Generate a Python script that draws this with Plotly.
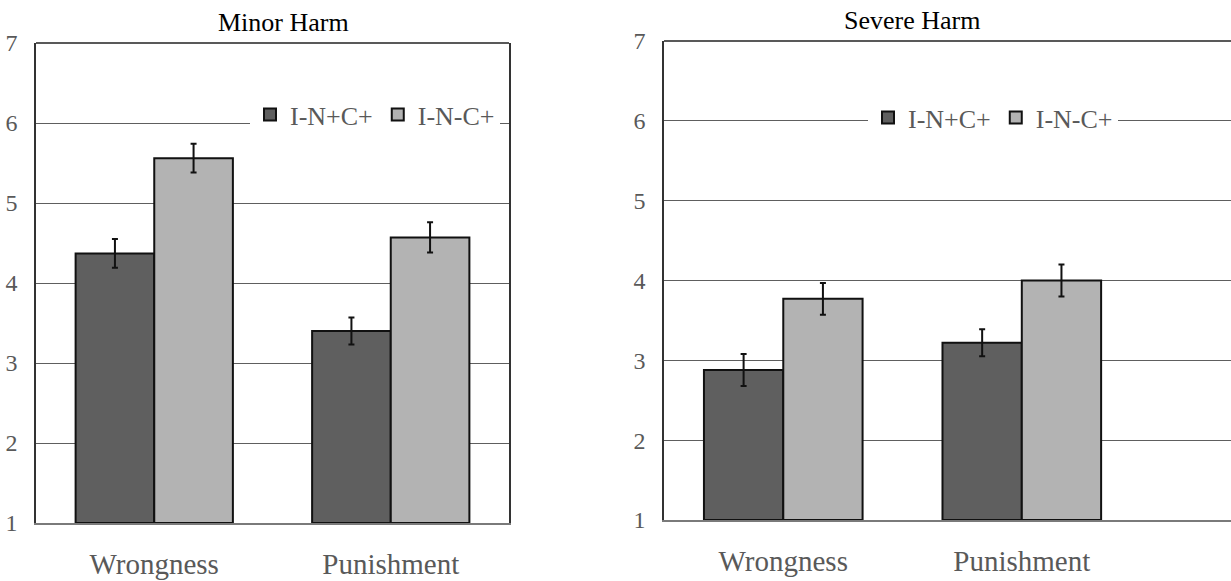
import plotly.graph_objects as go

categories = ["Wrongness", "Punishment"]
series_names = ["I-N+C+", "I-N-C+"]

minor_dark = [4.37, 3.40]
minor_dark_err = [0.18, 0.17]
minor_light = [5.56, 4.57]
minor_light_err = [0.18, 0.19]

severe_dark = [2.88, 3.22]
severe_dark_err = [0.20, 0.17]
severe_light = [3.77, 4.00]
severe_light_err = [0.20, 0.20]

y_ticks = [1, 2, 3, 4, 5, 6, 7]
panel_titles = ["Minor Harm", "Severe Harm"]

W, H = 1231, 581
FONT = "Liberation Serif, Times New Roman, serif"
DARK = "#5f5f5f"
LIGHT = "#b3b3b3"
GRID = "#5e5e5e"
TXT = "#595959"

xpos = list(range(len(categories)))

def bar(x, y, err, name, color, xa, ya, legend, show=True):
    return go.Bar(
        x=x, y=[v - 1 for v in y], base=1, name=name,
        marker=dict(color=color, line=dict(color="#111111", width=2)),
        error_y=dict(type="data", array=err, color="#111111", thickness=2, width=3),
        xaxis=xa, yaxis=ya, legend=legend, showlegend=show,
    )

fig = go.Figure()
fig.add_trace(bar(xpos, minor_dark, minor_dark_err, series_names[0], DARK, "x", "y", "legend"))
fig.add_trace(bar(xpos, minor_light, minor_light_err, series_names[1], LIGHT, "x", "y", "legend"))
fig.add_trace(bar(xpos, severe_dark, severe_dark_err, series_names[0], DARK, "x2", "y2", "legend2"))
fig.add_trace(bar(xpos, severe_light, severe_light_err, series_names[1], LIGHT, "x2", "y2", "legend2"))

def px_x(p):
    return p / W

def px_y(p):
    return (H - p) / H

yax = dict(
    range=[1, 7], tickvals=y_ticks, showgrid=True, gridcolor=GRID, gridwidth=1.3,
    zeroline=False, showline=True, linecolor="#333333", linewidth=1.5,
    tickfont=dict(family=FONT, size=24, color=TXT), ticks="", ticklabelstandoff=12,
    fixedrange=True, automargin=False,
)
xax = dict(
    tickvals=xpos, ticktext=categories, showgrid=False, zeroline=False,
    showline=True, linecolor="#7a7a7a", linewidth=2, ticks="",
    tickfont=dict(family=FONT, size=29, color=TXT), ticklabelstandoff=14,
    fixedrange=True, automargin=False,
)

legend_style = dict(
    orientation="h", bgcolor="white", borderwidth=0,
    font=dict(family=FONT, size=26, color=TXT), itemclick=False, itemdoubleclick=False,
    traceorder="normal", xanchor="left", yanchor="top", tracegroupgap=0,
)

fig.update_layout(
    template="none",
    width=W, height=H, margin=dict(l=0, r=0, t=0, b=0, autoexpand=False),
    paper_bgcolor="white", plot_bgcolor="white",
    barmode="group", bargap=0.335, bargroupgap=0,
    xaxis=dict(xax, domain=[px_x(36), px_x(509)], range=[-0.5, 1.5], anchor="y"),
    yaxis=dict(yax, domain=[px_y(523), px_y(43)], mirror=True, anchor="x"),
    xaxis2=dict(xax, domain=[px_x(664), 1.0], range=[-0.5, 1.877], anchor="y2"),
    yaxis2=dict(yax, domain=[px_y(520), px_y(41)], anchor="x2"),
    legend=dict(legend_style, x=px_x(250), y=px_y(91)),
    legend2=dict(legend_style, x=px_x(868), y=px_y(94)),
    showlegend=True,
    shapes=[
        dict(type="line", xref="x domain", yref="y domain", x0=0, x1=1, y0=1, y1=1,
             line=dict(color="#222222", width=1.5)),
        dict(type="line", xref="x2 domain", yref="y2 domain", x0=0, x1=1, y0=1, y1=1,
             line=dict(color="#222222", width=1.5)),
    ],
    annotations=[
        dict(text=panel_titles[0], x=px_x(283), y=px_y(23), xref="paper", yref="paper",
             showarrow=False, xanchor="center", yanchor="middle",
             font=dict(family=FONT, size=26, color="black")),
        dict(text=panel_titles[1], x=px_x(912), y=px_y(20), xref="paper", yref="paper",
             showarrow=False, xanchor="center", yanchor="middle",
             font=dict(family=FONT, size=26, color="black")),
    ],
)

fig.write_html("out.html")
